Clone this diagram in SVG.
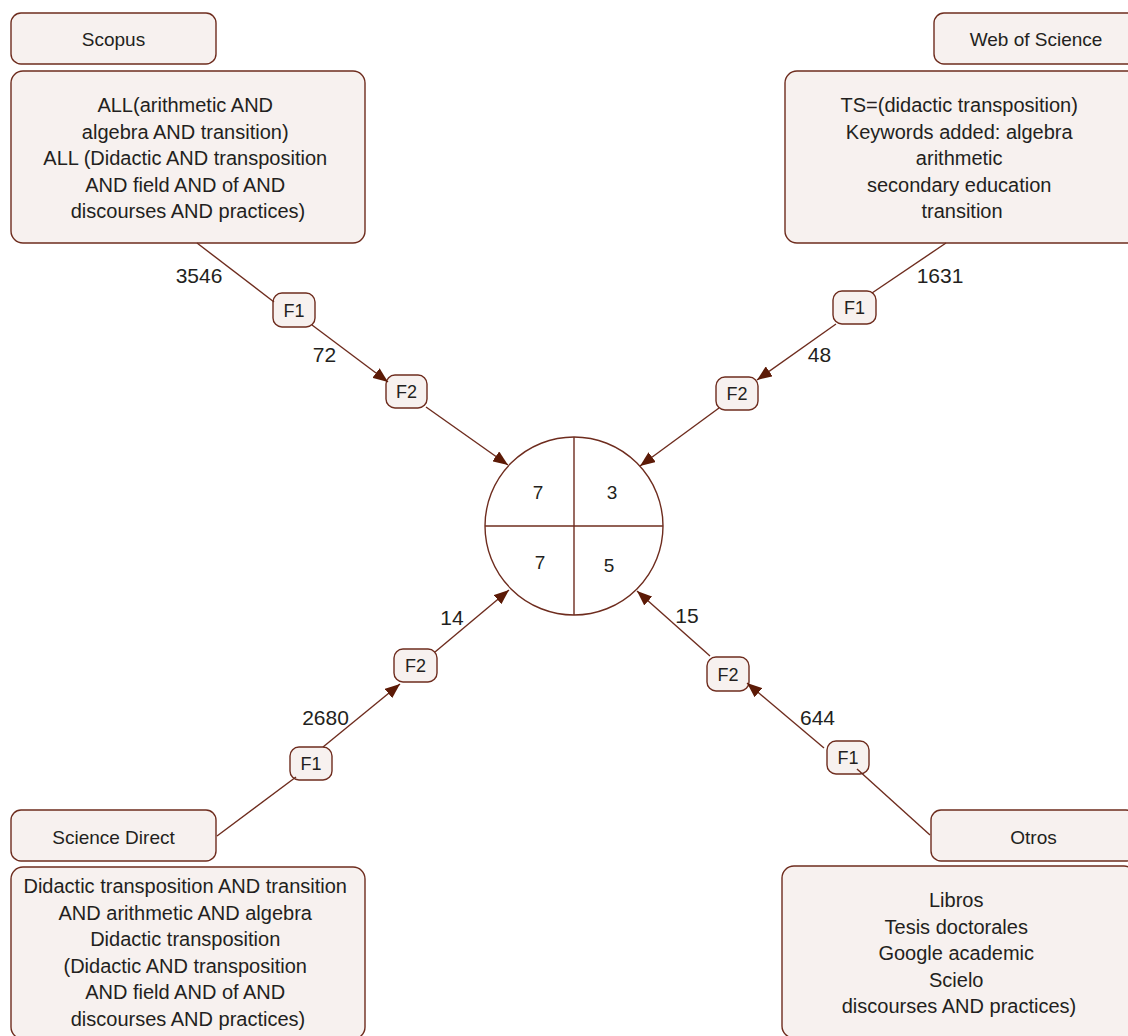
<svg xmlns="http://www.w3.org/2000/svg" width="1128" height="1036" viewBox="0 0 1128 1036">
<defs>
<style>
.box{fill:#f7f1ef;stroke:#6e2c1e;stroke-width:1.4}
.t{font-family:"Liberation Sans",Arial,sans-serif;fill:#231f20;text-anchor:middle}
.body{font-size:20px}
.title{font-size:19px}
.num{font-size:21px}
.f{font-size:18px}
.cn{font-size:19px}
.ln{fill:none;stroke:#6e2c1e;stroke-width:1.4}
</style>
<marker id="ah" markerUnits="userSpaceOnUse" markerWidth="15" markerHeight="12" refX="15" refY="6" orient="auto">
<path d="M0,0 L15,6 L0,12 Z" fill="#5c1a06"/>
</marker>
</defs>
<rect width="1128" height="1036" fill="#ffffff"/>

<g id="scopus">
<rect class="box" x="11" y="13" width="205" height="51" rx="10"/>
<text class="t title" x="113.5" y="46">Scopus</text>
</g>
<g id="scopus-query">
<rect class="box" x="11" y="71" width="354" height="172" rx="12"/>
<text class="t body">
<tspan x="188" y="112">ALL(arithmetic AND</tspan>
<tspan x="188" y="138.5">algebra AND transition)</tspan>
<tspan x="188" y="165">ALL (Didactic AND transposition</tspan>
<tspan x="188" y="191.5">AND field AND of AND</tspan>
<tspan x="188" y="218">discourses AND practices)</tspan>
</text>
</g>

<g id="wos">
<rect class="box" x="934" y="13" width="205" height="51" rx="10"/>
<text class="t title" x="1036" y="46">Web of Science</text>
</g>
<g id="wos-query">
<rect class="box" x="785" y="71" width="354" height="172" rx="12"/>
<text class="t body">
<tspan x="962" y="112">TS=(didactic transposition)</tspan>
<tspan x="962" y="138.5">Keywords added: algebra</tspan>
<tspan x="962" y="165">arithmetic</tspan>
<tspan x="962" y="191.5">secondary education</tspan>
<tspan x="962" y="218">transition</tspan>
</text>
</g>

<g id="sd">
<rect class="box" x="11" y="810" width="205" height="51" rx="10"/>
<text class="t title" x="113.5" y="844">Science Direct</text>
</g>
<g id="sd-query">
<rect class="box" x="11" y="867" width="354" height="172" rx="12"/>
<text class="t body">
<tspan x="188" y="893">Didactic transposition AND transition</tspan>
<tspan x="188" y="919.5">AND arithmetic AND algebra</tspan>
<tspan x="188" y="946">Didactic transposition</tspan>
<tspan x="188" y="972.5">(Didactic AND transposition</tspan>
<tspan x="188" y="999">AND field AND of AND</tspan>
<tspan x="188" y="1025.5">discourses AND practices)</tspan>
</text>
</g>

<g id="otros">
<rect class="box" x="931" y="810" width="205" height="51" rx="10"/>
<text class="t title" x="1033.5" y="844">Otros</text>
</g>
<g id="otros-query">
<rect class="box" x="782" y="866" width="354" height="172" rx="12"/>
<text class="t body">
<tspan x="959" y="907">Libros</tspan>
<tspan x="959" y="933.5">Tesis doctorales</tspan>
<tspan x="959" y="960">Google academic</tspan>
<tspan x="959" y="986.5">Scielo</tspan>
<tspan x="959" y="1013">discourses AND practices)</tspan>
</text>
</g>

<g id="scopus-f1"><rect class="box" x="273" y="293" width="42" height="34" rx="9"/><text class="t f" x="294" y="316.5">F1</text></g>
<g id="scopus-f2"><rect class="box" x="386" y="375" width="41" height="33" rx="9"/><text class="t f" x="406.5" y="398">F2</text></g>
<g id="wos-f1"><rect class="box" x="833" y="291" width="43" height="33" rx="9"/><text class="t f" x="854.5" y="314">F1</text></g>
<g id="wos-f2"><rect class="box" x="716" y="377" width="42" height="33" rx="9"/><text class="t f" x="737" y="400">F2</text></g>
<g id="sd-f1"><rect class="box" x="290" y="747" width="42" height="33" rx="9"/><text class="t f" x="311" y="770">F1</text></g>
<g id="sd-f2"><rect class="box" x="394" y="649" width="43" height="33" rx="9"/><text class="t f" x="415.5" y="672">F2</text></g>
<g id="otros-f1"><rect class="box" x="827" y="741" width="42" height="33" rx="9"/><text class="t f" x="848" y="764">F1</text></g>
<g id="otros-f2"><rect class="box" x="707" y="657" width="42" height="34" rx="9"/><text class="t f" x="728" y="680.5">F2</text></g>

<g id="result">
<circle cx="574" cy="526" r="89" fill="#ffffff" stroke="#6e2c1e" stroke-width="1.4"/>
<line class="ln" x1="574" y1="437" x2="574" y2="615"/>
<line class="ln" x1="485" y1="526" x2="663" y2="526"/>
<text class="t cn" x="538" y="499">7</text>
<text class="t cn" x="612" y="499">3</text>
<text class="t cn" x="540" y="569">7</text>
<text class="t cn" x="609" y="572">5</text>
</g>

<g id="connectors">
<line class="ln" x1="197" y1="243" x2="274" y2="302"/>
<line class="ln" x1="312" y1="325" x2="388" y2="382" marker-end="url(#ah)"/>
<line class="ln" x1="426" y1="407" x2="508" y2="465" marker-end="url(#ah)"/>
<line class="ln" x1="946" y1="243" x2="872" y2="293"/>
<line class="ln" x1="836" y1="324" x2="757" y2="380" marker-end="url(#ah)"/>
<line class="ln" x1="719" y1="408" x2="640" y2="466" marker-end="url(#ah)"/>
<line class="ln" x1="217" y1="836" x2="296" y2="777"/>
<line class="ln" x1="323" y1="747" x2="400" y2="684" marker-end="url(#ah)"/>
<line class="ln" x1="435" y1="652" x2="509" y2="590" marker-end="url(#ah)"/>
<line class="ln" x1="930" y1="835" x2="857" y2="769"/>
<line class="ln" x1="824" y1="748" x2="747" y2="683" marker-end="url(#ah)"/>
<line class="ln" x1="710" y1="656" x2="637" y2="591" marker-end="url(#ah)"/>
</g>

<g id="edge-labels">
<text class="t num" x="199" y="283">3546</text>
<text class="t num" x="324.5" y="362">72</text>
<text class="t num" x="940" y="283">1631</text>
<text class="t num" x="819.5" y="362">48</text>
<text class="t num" x="325.5" y="725">2680</text>
<text class="t num" x="452" y="625">14</text>
<text class="t num" x="817.5" y="725">644</text>
<text class="t num" x="687" y="623">15</text>
</g>
</svg>
